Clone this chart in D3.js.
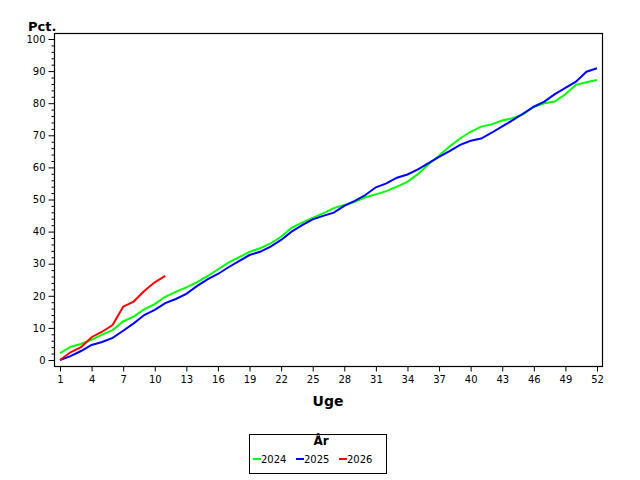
<!DOCTYPE html>
<html>
<head>
<meta charset="utf-8">
<script src="https://cdn.jsdelivr.net/npm/d3@7"></script>
<style>
  body { margin: 0; background: #fff; }
  svg { font-family: "DejaVu Sans", Verdana, sans-serif; }
</style>
</head>
<body>
<svg width="640" height="480"></svg>
<script>
// weeks on the x axis
const weeks = [1, 2, 3, 4, 5, 6, 7, 8, 9, 10, 11, 12, 13, 14, 15, 16, 17, 18, 19, 20,
  21, 22, 23, 24, 25, 26, 27, 28, 29, 30, 31, 32, 33, 34, 35, 36, 37, 38, 39, 40,
  41, 42, 43, 44, 45, 46, 47, 48, 49, 50, 51, 52];

// cumulative pct per week
const values2024 = [2.1, 4.1, 5.0, 6.3, 7.9, 9.3, 12.0, 13.5, 15.8, 17.4, 19.7, 21.2, 22.6, 24.2,
  26.1, 28.2, 30.3, 32.0, 33.7, 34.8, 36.3, 38.4, 41.2, 42.8, 44.3, 45.7, 47.3, 48.3, 49.3,
  50.7, 51.6, 52.6, 54.0, 55.5, 57.9, 61.0, 63.6, 66.5, 69.0, 71.1, 72.7, 73.4, 74.6, 75.3,
  76.5, 78.9, 80.0, 80.5, 82.8, 85.7, 86.5, 87.2];
const values2025 = [0, 1.2, 2.8, 4.7, 5.6, 6.9, 9.1, 11.4, 14.0, 15.6, 17.7, 19.0, 20.6, 23.0,
  25.1, 26.8, 28.9, 30.8, 32.7, 33.7, 35.3, 37.4, 40.0, 42.0, 43.8, 44.9, 45.9, 48.0, 49.6,
  51.4, 53.8, 55.0, 56.8, 57.8, 59.4, 61.3, 63.3, 65.1, 67.0, 68.3, 69.0, 70.8, 72.8, 74.7,
  76.8, 78.9, 80.5, 82.8, 84.8, 86.7, 89.8, 90.9];
const values2026 = [0, 2.4, 4.0, 7.1, 8.8, 10.9, 16.6, 18.2, 21.5, 24.2, 26.2];

const years = ["2024", "2025", "2026"];
const yearColors = ["#00ff00", "#0000ff", "#ff0000"];
const xTicks = [1, 4, 7, 10, 13, 16, 19, 22, 25, 28, 31, 34, 37, 40, 43, 46, 49, 52];
const yTicks = [0, 10, 20, 30, 40, 50, 60, 70, 80, 90, 100];

const svg = d3.select("svg");

const frame = { left: 54, top: 33, right: 602, bottom: 366 };

const x = d3.scaleLinear().domain([1, 52]).range([60, 597]);
const y = d3.scaleLinear().domain([0, 100]).range([360, 39]);

// frame around plot area
svg.append("rect")
  .attr("x", frame.left + 0.5)
  .attr("y", frame.top + 0.5)
  .attr("width", frame.right - frame.left)
  .attr("height", frame.bottom - frame.top)
  .attr("fill", "none")
  .attr("stroke", "#000")
  .attr("stroke-width", 1.2);

// y axis
const yAxis = svg.append("g")
  .attr("transform", `translate(${frame.left + 0.5},0)`);
yAxis.call(d3.axisLeft(y).tickValues(yTicks).tickSize(6).tickPadding(3))
  .call(g => g.select(".domain").remove());
yAxis.selectAll(".tick-minor")
  .data(d3.range(0, 101, 2).filter(d => d % 10 !== 0))
  .enter().append("line")
  .attr("x1", 0).attr("x2", -3)
  .attr("y1", d => y(d) + 0.5).attr("y2", d => y(d) + 0.5)
  .attr("stroke", "#000");
yAxis.selectAll("text")
  .attr("font-family", "DejaVu Sans, sans-serif")
  .attr("font-size", 10)
  .attr("fill", "#000");

// x axis
const xAxis = svg.append("g")
  .attr("transform", `translate(0,${frame.bottom + 0.5})`);
xAxis.call(d3.axisBottom(x).tickValues(xTicks).tickSize(5).tickPadding(4))
  .call(g => g.select(".domain").remove());
xAxis.selectAll("text")
  .attr("font-family", "DejaVu Sans, sans-serif")
  .attr("font-size", 10)
  .attr("fill", "#000");

// axis labels
svg.append("text")
  .attr("x", 28)
  .attr("y", 31)
  .attr("font-size", 13)
  .attr("font-weight", "bold")
  .text("Pct.");

svg.append("text")
  .attr("x", 328)
  .attr("y", 406)
  .attr("text-anchor", "middle")
  .attr("font-size", 14)
  .attr("font-weight", "bold")
  .text("Uge");

// lines
const line = d3.line()
  .x(d => x(d.week))
  .y(d => y(d.value));

const series = [values2024, values2025, values2026].map((vals, i) => ({
  year: years[i],
  color: yearColors[i],
  points: vals.map((v, j) => ({ week: weeks[j], value: v }))
}));

svg.selectAll(".series")
  .data(series)
  .enter().append("path")
  .attr("class", "series")
  .attr("d", d => line(d.points))
  .attr("fill", "none")
  .attr("stroke", d => d.color)
  .attr("stroke-width", 2);

// legend
const legend = svg.append("g");
legend.append("rect")
  .attr("x", 249.5)
  .attr("y", 434.5)
  .attr("width", 137)
  .attr("height", 39)
  .attr("fill", "#fff")
  .attr("stroke", "#000");

legend.append("text")
  .attr("x", 321)
  .attr("y", 445)
  .attr("text-anchor", "middle")
  .attr("font-size", 12)
  .attr("font-weight", "bold")
  .text("År");

const legendX = [253, 296, 339];
years.forEach((yr, i) => {
  legend.append("line")
    .attr("x1", legendX[i]).attr("x2", legendX[i] + 8)
    .attr("y1", 459).attr("y2", 459)
    .attr("stroke", yearColors[i])
    .attr("stroke-width", 2);
  legend.append("text")
    .attr("x", legendX[i] + 8)
    .attr("y", 463)
    .attr("font-size", 10)
    .text(yr);
});
</script>
</body>
</html>
